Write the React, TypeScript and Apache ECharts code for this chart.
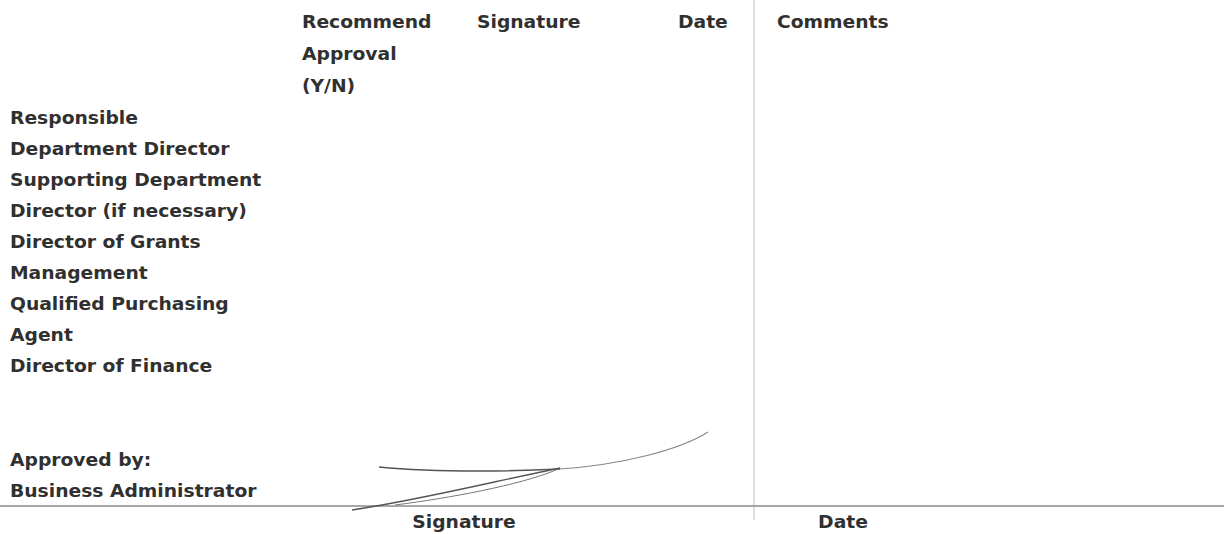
import React, { useEffect, useRef } from "react";
import * as echarts from "echarts";

const headerLabels = ["Recommend\nApproval\n(Y/N)", "Signature", "Date", "Comments"];
const headerX = [302, 477, 678, 777];
const rowLabels = [
  "Responsible",
  "Department Director",
  "Supporting Department",
  "Director (if necessary)",
  "Director of Grants",
  "Management",
  "Qualified Purchasing",
  "Agent",
  "Director of Finance",
];
const approvalLabels = ["Approved by:", "Business Administrator"];
const footerLabels = ["Signature", "Date"];
const footerX = [464, 843];

const FONT = "'DejaVu Sans', sans-serif";
const COLOR = "#303030";

export default function App() {
  const ref = useRef<HTMLDivElement>(null);
  useEffect(() => {
    const chart = echarts.init(ref.current!, null, { renderer: "svg" });
    const txt = (text: string, x: number, y: number, align = "left") => ({
      type: "text",
      x,
      y,
      scaleX: 1.04,
      style: {
        text,
        fill: COLOR,
        font: `bold 18px ${FONT}`,
        align,
        verticalAlign: "middle",
      },
    });
    const elements: any[] = [];
    elements.push({
      type: "line",
      shape: { x1: 754, y1: 0, x2: 754, y2: 520 },
      style: { stroke: "#d4d4d4", lineWidth: 1.5 },
    });
    elements.push({
      type: "line",
      shape: { x1: 0, y1: 506, x2: 1224, y2: 506 },
      style: { stroke: "#8a8a8a", lineWidth: 1.6 },
    });
    headerLabels.forEach((h, i) =>
      h.split("\n").forEach((line, j) => elements.push(txt(line, headerX[i], 22 + j * 32)))
    );
    rowLabels.forEach((r, i) => elements.push(txt(r, 10, 118 + i * 31)));
    approvalLabels.forEach((r, i) => elements.push(txt(r, 10, 460 + i * 31)));
    footerLabels.forEach((f, i) => elements.push(txt(f, footerX[i], 522, "center")));
    const sig = { stroke: "#555", lineWidth: 1.4, fill: "none" };
    elements.push({
      type: "bezierCurve",
      shape: { x1: 379, y1: 467, x2: 560, y2: 469, cpx1: 440, cpy1: 473, cpx2: 520, cpy2: 471 },
      style: sig,
    });
    elements.push({
      type: "bezierCurve",
      shape: { x1: 560, y1: 469, x2: 708, y2: 432, cpx1: 620, cpy1: 465, cpx2: 680, cpy2: 450 },
      style: { ...sig, stroke: "#888", lineWidth: 1.1 },
    });
    elements.push({
      type: "bezierCurve",
      shape: { x1: 352, y1: 510, x2: 560, y2: 468, cpx1: 420, cpy1: 500, cpx2: 500, cpy2: 480 },
      style: sig,
    });
    elements.push({
      type: "bezierCurve",
      shape: { x1: 395, y1: 505, x2: 556, y2: 470, cpx1: 450, cpy1: 498, cpx2: 520, cpy2: 485 },
      style: { ...sig, stroke: "#777", lineWidth: 1 },
    });
    chart.setOption({
      animation: false,
      backgroundColor: "#ffffff",
      graphic: { elements },
    });
    return () => chart.dispose();
  }, []);
  return (
    <div
      ref={ref}
      style={{ position: "fixed", left: 0, top: 0, width: 1224, height: 534 }}
    />
  );
}
